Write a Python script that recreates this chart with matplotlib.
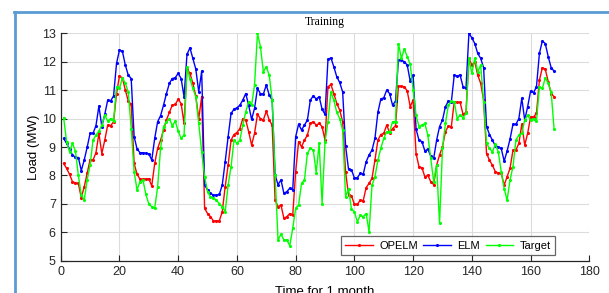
import numpy as np
import matplotlib
matplotlib.use("Agg")
import matplotlib.pyplot as plt
from matplotlib.lines import Line2D

# hourly load, 168 samples
hours = np.arange(1, 169)

elm = [
    9.30, 9.13, 8.93, 8.72, 8.64, 8.63, 8.17, 8.54, 8.99, 9.48, 9.48, 9.75,
    10.44, 9.72, 10.15, 10.65, 10.62, 10.80, 11.94, 12.41, 12.37, 11.88, 11.53, 11.41,
    9.36, 8.93, 8.80, 8.80, 8.78, 8.76, 8.54, 9.30, 9.89, 10.10, 10.47, 10.88,
    11.24, 11.41, 11.44, 11.59, 11.41, 10.77, 12.26, 12.49, 12.12, 11.74, 10.94, 11.67,
    7.66, 7.49, 7.37, 7.31, 7.31, 7.33, 7.66, 8.48, 9.36, 10.18, 10.33, 10.38,
    10.47, 10.65, 10.88, 10.47, 9.97, 10.36, 11.06, 10.88, 10.86, 11.18, 10.83, 10.65,
    8.01, 7.68, 7.84, 7.37, 7.43, 7.55, 7.49, 9.36, 9.80, 9.60, 9.77, 9.95,
    10.65, 10.80, 10.69, 10.77, 10.33, 10.15, 12.08, 12.14, 11.82, 11.47, 11.27, 10.94,
    9.04, 8.22, 8.19, 7.92, 7.92, 8.07, 8.04, 8.48, 8.72, 8.89, 9.30, 10.22,
    10.69, 10.73, 11.00, 10.88, 10.47, 10.62, 12.06, 12.06, 12.00, 11.88, 11.32, 11.53,
    9.63, 9.24, 9.19, 8.86, 8.93, 8.68, 8.60, 9.24, 9.72, 9.95, 10.42, 10.62,
    10.57, 11.53, 11.50, 11.53, 11.12, 11.06, 13.00, 12.84, 12.64, 12.29, 12.12, 11.79,
    9.72, 9.44, 9.24, 9.04, 9.01, 8.95, 8.50, 8.86, 9.28, 9.80, 9.80, 10.00,
    10.71, 9.95, 10.42, 10.97, 10.91, 11.12, 12.29, 12.73, 12.64, 12.18, 11.79, 11.67,
]

opelm = [
    8.42, 8.25, 8.04, 7.78, 7.74, 7.72, 7.22, 7.60, 8.07, 8.56, 8.54, 8.80,
    9.48, 8.77, 9.24, 9.77, 9.75, 9.89, 10.88, 11.50, 11.43, 11.00, 10.62, 10.50,
    8.42, 8.04, 7.87, 7.86, 7.88, 7.88, 7.63, 8.42, 8.95, 9.24, 9.59, 9.95,
    10.22, 10.47, 10.50, 10.68, 10.53, 9.83, 11.76, 11.59, 11.24, 10.79, 10.00, 10.77,
    6.84, 6.66, 6.55, 6.40, 6.40, 6.40, 6.72, 7.60, 8.36, 9.24, 9.44, 9.51,
    9.65, 10.00, 9.95, 9.54, 9.07, 9.48, 10.15, 10.00, 9.95, 10.26, 9.95, 9.77,
    7.13, 6.90, 6.96, 6.49, 6.55, 6.66, 6.60, 8.13, 9.19, 9.01, 9.24, 9.42,
    9.83, 9.89, 9.77, 9.83, 9.72, 9.24, 11.12, 11.20, 10.88, 10.53, 10.30, 9.89,
    8.13, 7.31, 7.29, 6.98, 6.98, 7.13, 7.11, 7.57, 7.72, 7.90, 8.54, 9.24,
    9.44, 9.48, 9.77, 9.51, 9.65, 9.75, 11.14, 11.14, 11.12, 10.97, 10.42, 10.65,
    8.77, 8.31, 8.27, 7.95, 8.01, 7.78, 7.68, 8.36, 8.72, 9.01, 9.54, 9.74,
    9.71, 10.59, 10.57, 10.57, 10.15, 10.22, 12.12, 11.88, 12.00, 11.53, 11.24, 10.65,
    8.77, 8.54, 8.36, 8.13, 8.09, 8.07, 7.66, 7.95, 8.25, 8.89, 8.89, 9.13,
    9.80, 9.07, 9.48, 10.06, 10.06, 10.18, 11.35, 11.79, 11.74, 11.30, 10.88, 10.77,
]

target = [
    10.03, 9.19, 8.83, 9.13, 8.86, 8.01, 7.31, 7.13, 7.84, 8.36, 9.24, 9.42,
    9.56, 9.77, 10.12, 9.91, 10.00, 9.91, 11.12, 11.06, 11.43, 11.24, 10.94, 9.65,
    8.13, 7.49, 7.78, 7.84, 7.33, 7.00, 6.90, 6.84, 7.60, 8.95, 9.72, 9.89,
    10.00, 9.75, 9.91, 9.56, 9.30, 9.42, 11.82, 11.41, 11.06, 10.77, 9.83, 8.83,
    7.95, 7.43, 7.25, 7.21, 7.13, 7.01, 6.90, 6.72, 7.66, 8.31, 9.24, 9.13,
    9.24, 9.77, 10.24, 10.59, 10.47, 11.18, 13.00, 12.53, 11.65, 11.82, 11.53, 10.65,
    8.01, 5.73, 5.93, 5.73, 5.73, 5.53, 6.14, 6.84, 6.96, 7.72, 7.84, 8.78,
    8.95, 8.90, 8.10, 9.13, 7.01, 9.19, 9.89, 10.94, 10.65, 10.22, 10.00, 9.60,
    7.25, 7.54, 6.82, 6.72, 6.37, 6.60, 6.55, 6.66, 6.02, 7.66, 7.95, 8.54,
    8.95, 9.30, 9.54, 9.54, 9.89, 9.89, 12.64, 12.12, 12.45, 12.18, 11.91, 11.00,
    10.12, 9.72, 9.77, 9.83, 9.42, 8.60, 7.78, 8.36, 6.31, 8.95, 9.83, 10.47,
    10.62, 10.59, 10.00, 10.12, 10.03, 10.18, 12.12, 11.59, 12.12, 11.65, 11.88, 10.59,
    9.13, 8.95, 8.83, 9.09, 8.83, 8.13, 7.54, 7.13, 7.84, 8.31, 9.24, 9.42,
    9.48, 9.95, 10.12, 9.95, 10.00, 9.91, 11.12, 11.06, 11.43, 11.24, 10.94, 9.63,
]

x_ticks = [0, 20, 40, 60, 80, 100, 120, 140, 160, 180]
y_ticks = [5, 6, 7, 8, 9, 10, 11, 12, 13]

plt.rcParams["font.family"] = ["Liberation Sans", "DejaVu Sans"]

fig = plt.figure(figsize=(6.09, 2.93), dpi=100)
ax = fig.add_axes([0.0997, 0.1102, 0.868, 0.7761])

ax.plot(hours, opelm, color="#ff0000", marker=".", markersize=2.5, linewidth=1, label="OPELM")
ax.plot(hours, elm, color="#0000ff", marker=".", markersize=2.5, linewidth=1, label="ELM")
ax.plot(hours, target, color="#00ff00", marker=".", markersize=2.5, linewidth=1, label="Target")

ax.set_xlim(0, 180)
ax.set_ylim(5, 13)
ax.set_xticks(x_ticks)
ax.set_yticks(y_ticks)
ax.tick_params(direction="in", length=4, width=0.8, labelsize=9, colors="#262626")
ax.grid(True, color="#dcdcdc", linewidth=0.8)
ax.set_axisbelow(True)
for side in ["top", "right"]:
    ax.spines[side].set_visible(False)
for side in ["left", "bottom"]:
    ax.spines[side].set_color("#262626")
    ax.spines[side].set_linewidth(0.9)

ax.set_title("Training", fontsize=8.5, family=["Liberation Serif"], pad=6)
ax.set_ylabel("Load (MW)", fontsize=9.5, labelpad=1)
ax.set_xlabel("Time for 1 month", fontsize=9.5, labelpad=6)

leg = ax.legend(loc="lower right", bbox_to_anchor=(0.935, 0.025), ncol=3, fontsize=8,
                borderaxespad=0, frameon=True, fancybox=False, handlelength=2.5,
                columnspacing=0.5, handletextpad=0.55, borderpad=0.4)
leg.get_frame().set_edgecolor("#404040")
leg.get_frame().set_linewidth(0.9)

# frame of the surrounding panel
frame_color = "#5b9bd5"
fig.add_artist(Line2D([15 / 609, 15 / 609], [0, 1 - 11.5 / 293], transform=fig.transFigure,
                      color=frame_color, linewidth=2))
fig.add_artist(Line2D([14 / 609, 1], [1 - 11.5 / 293, 1 - 11.5 / 293], transform=fig.transFigure,
                      color=frame_color, linewidth=2))

fig.savefig("out.png", dpi=100)
